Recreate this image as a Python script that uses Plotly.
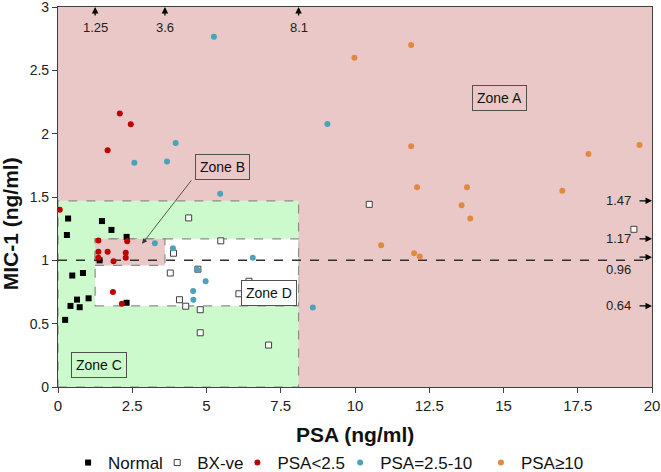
import plotly.graph_objects as go

# ---- data ----
normal_x = [0.34, 1.48, 1.80, 0.30, 2.31, 1.40, 0.84, 0.48, 1.03, 0.64, 0.42, 0.73, 2.31, 0.24]
normal_y = [1.33, 1.31, 1.24, 1.20, 1.185, 1.00, 0.90, 0.88, 0.70, 0.69, 0.64, 0.63, 0.665, 0.53]

bx_x = [4.40, 5.48, 3.89, 3.78, 4.71, 4.09, 4.30, 4.79, 4.79, 7.09, 6.43, 6.09, 10.48, 19.39]
bx_y = [1.335, 1.154, 1.056, 0.90, 0.93, 0.689, 0.638, 0.61, 0.428, 0.331, 0.835, 0.736, 1.442, 1.245]

low_x = [0.06, 1.36, 2.33, 1.36, 1.67, 2.28, 1.36, 2.28, 1.87, 1.85, 2.15, 2.08, 2.45, 1.67]
low_y = [1.40, 1.156, 1.15, 1.067, 1.067, 1.06, 1.02, 1.02, 0.993, 0.75, 0.657, 2.16, 2.075, 1.87]

mid_x = [5.25, 9.07, 3.96, 3.67, 2.57, 5.46, 3.26, 3.87, 6.56, 4.69, 4.97, 4.55, 4.56, 8.58]
mid_y = [2.766, 2.076, 1.926, 1.78, 1.77, 1.526, 1.135, 1.095, 1.02, 0.925, 0.835, 0.757, 0.689, 0.628]

high_x = [9.98, 11.89, 11.89, 12.09, 13.77, 13.59, 13.88, 10.88, 11.99, 12.18, 16.98, 17.86, 19.58]
high_y = [2.60, 2.70, 1.90, 1.576, 1.576, 1.434, 1.33, 1.12, 1.056, 1.03, 1.55, 1.84, 1.91]

psa_cuts = [1.25, 3.6, 8.1]
psa_cut_labels = ["1.25", "3.6", "8.1"]
mic_cuts = [1.47, 1.17, 0.96, 0.64]
mic_cut_labels = ["1.47", "1.17", "0.96", "0.64"]
mic_cut_draw = [1.47, 1.17, 1.025, 0.64]   # where the arrows sit in the picture
mic_cut_text = [1.47, 1.17, 0.925, 0.64]

series_names = ["Normal", "BX-ve", "PSA<2.5", "PSA=2.5-10", "PSA≥10"]

PINK = "rgb(235,200,200)"
GREEN = "rgb(204,250,204)"
FONT = "Liberation Sans"

# legend entry positions (paper x of each legend box, left-anchored)
legend_x = [0.017, 0.167, 0.302, 0.475, 0.712]
legend_ids = ["legend", "legend2", "legend3", "legend4", "legend5"]

fig = go.Figure()

fig.add_trace(go.Scatter(x=normal_x, y=normal_y, mode="markers", name=series_names[0],
                         legend=legend_ids[0],
                         marker=dict(symbol="square", size=6, color="black")))
fig.add_trace(go.Scatter(x=bx_x, y=bx_y, mode="markers", name=series_names[1],
                         legend=legend_ids[1],
                         marker=dict(symbol="square", size=6, color="white",
                                     line=dict(color="#404040", width=1))))
fig.add_trace(go.Scatter(x=low_x, y=low_y, mode="markers", name=series_names[2],
                         legend=legend_ids[2],
                         marker=dict(symbol="circle", size=6, color="#C00000")))
fig.add_trace(go.Scatter(x=mid_x, y=mid_y, mode="markers", name=series_names[3],
                         legend=legend_ids[3],
                         marker=dict(symbol="circle", size=6, color="#4AA3BA")))
fig.add_trace(go.Scatter(x=high_x, y=high_y, mode="markers", name=series_names[4],
                         legend=legend_ids[4],
                         marker=dict(symbol="circle", size=6, color="#E08A40")))

dash_line = dict(color="#8c8c8c", width=1.2, dash="dash")
shapes = [
    dict(type="rect", xref="x", yref="y", x0=0, x1=20, y0=0, y1=3,
         fillcolor=PINK, line=dict(width=0), layer="below"),
    dict(type="rect", xref="x", yref="y", x0=0, x1=psa_cuts[2], y0=0, y1=mic_cuts[0],
         fillcolor=GREEN, line=dash_line, layer="below"),
    dict(type="rect", xref="x", yref="y", x0=psa_cuts[0], x1=psa_cuts[2], y0=mic_cuts[3], y1=mic_cuts[1],
         fillcolor="white", line=dash_line, layer="below"),
    dict(type="rect", xref="x", yref="y", x0=psa_cuts[0], x1=psa_cuts[1], y0=mic_cuts[2], y1=mic_cuts[1],
         fillcolor=PINK, line=dash_line, layer="below"),
    dict(type="line", xref="x", yref="y", x0=0, x1=20, y0=1, y1=1,
         line=dict(color="#303030", width=1.5, dash="dash"), layer="below"),
]

annotations = []
# top arrows
for xv, lab in zip(psa_cuts, psa_cut_labels):
    annotations.append(dict(x=xv, y=3, xref="x", yref="y", text="", showarrow=True,
                            ax=0, ay=10, arrowhead=2, arrowsize=1, arrowwidth=1.3,
                            arrowcolor="black"))
    annotations.append(dict(x=xv, y=3, xref="x", yref="y", text=lab, showarrow=False,
                            yshift=-20, font=dict(family=FONT, size=13, color="#222")))
# right arrows
for yd, yt, lab in zip(mic_cut_draw, mic_cut_text, mic_cut_labels):
    annotations.append(dict(x=20, y=yd, xref="x", yref="y", text="", showarrow=True,
                            ax=-14, ay=0, arrowhead=2, arrowsize=1, arrowwidth=1.3,
                            arrowcolor="black"))
    annotations.append(dict(x=20, y=yt, xref="x", yref="y", text=lab, showarrow=False,
                            xanchor="right", xshift=-19,
                            font=dict(family=FONT, size=13, color="#222")))

box = dict(showarrow=False, bordercolor="#505050", borderwidth=1, borderpad=4,
           font=dict(family=FONT, size=14, color="#111"))
annotations.append(dict(x=14.86, y=2.28, xref="x", yref="y", text="Zone A", **box))
annotations.append(dict(x=5.55, y=1.737, xref="x", yref="y", text="Zone B", **box))
annotations.append(dict(x=1.37, y=0.175, xref="x", yref="y", text="Zone C", **box))
annotations.append(dict(x=7.11, y=0.744, xref="x", yref="y", text="Zone D", bgcolor="white", **box))
# Zone B pointer
annotations.append(dict(x=2.83, y=1.13, xref="x", yref="y", ax=4.53, ay=1.643,
                        axref="x", ayref="y", text="", showarrow=True, arrowhead=2,
                        arrowsize=1.3, arrowwidth=0.8, arrowcolor="#333"))
# axis titles
annotations.append(dict(x=0.5, y=-0.1245, xref="paper", yref="paper", text="<b>PSA (ng/ml)</b>",
                        showarrow=False, yanchor="middle",
                        font=dict(family=FONT, size=21, color="#111")))
annotations.append(dict(x=-0.0796, y=0.43, xref="paper", yref="paper", text="<b>MIC-1 (ng/ml)</b>",
                        showarrow=False, textangle=-90, xanchor="center", yanchor="middle",
                        font=dict(family=FONT, size=21, color="#111")))

legend_style = dict(orientation="h", xanchor="left", y=-0.2, yanchor="middle",
                    font=dict(family=FONT, size=17, color="#111"),
                    itemwidth=30, bgcolor="rgba(0,0,0,0)", borderwidth=0)
legends = {lid: dict(x=lx, **legend_style) for lid, lx in zip(legend_ids, legend_x)}

fig.update_layout(
    width=661, height=472,
    margin=dict(l=58, r=9, t=7, b=85, autoexpand=False),
    plot_bgcolor="white", paper_bgcolor="white",
    font=dict(family=FONT, size=14, color="#222"),
    shapes=shapes, annotations=annotations,
    showlegend=True,
    **legends,
)
fig.update_xaxes(range=[0, 20], dtick=2.5, tick0=0, showgrid=False, zeroline=False,
                 showline=True, linecolor="#404040", linewidth=1.2, mirror=True,
                 ticks="outside", ticklen=5, tickcolor="#404040", automargin=False,
                 ticklabeloverflow="allow",
                 tickfont=dict(family=FONT, size=15, color="#222"))
fig.update_yaxes(range=[0, 3], dtick=0.5, tick0=0, showgrid=False, zeroline=False,
                 showline=True, linecolor="#404040", linewidth=1.2, mirror=True,
                 ticks="outside", ticklen=5, tickcolor="#404040", automargin=False,
                 ticklabeloverflow="allow",
                 tickfont=dict(family=FONT, size=14, color="#222"))

fig.write_html("out.html", config={"displayModeBar": False},
               post_script="document.body.style.margin='0';document.body.style.overflow='hidden';")
